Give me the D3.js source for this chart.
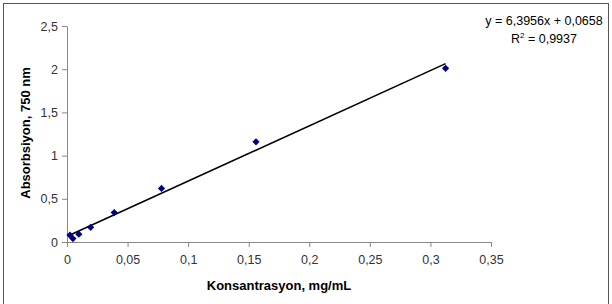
<!DOCTYPE html>
<html>
<head>
<meta charset="utf-8">
<script src="https://cdn.jsdelivr.net/npm/d3@7"></script>
<style>
  body { margin: 0; background: #fff; }
  svg { display: block; font-family: "Liberation Sans", Arial, sans-serif; }
</style>
</head>
<body>
<svg id="chart" width="612" height="304"></svg>
<script>
// concentration (mg/mL) and absorbance at 750 nm
const konsantrasyon = [0.00244, 0.00488, 0.00977, 0.0195, 0.039, 0.078, 0.156, 0.3125]
const absorbsiyon = [0.08, 0.04, 0.09, 0.17, 0.34, 0.62, 1.16, 2.01]
const xTicks = [0, 0.05, 0.1, 0.15, 0.2, 0.25, 0.3, 0.35]
const yTicks = [0, 0.5, 1, 1.5, 2, 2.5]
const slope = 6.3956
const intercept = 0.0658

const svg = d3.select('#chart')
const fmt = d => String(d).replace('.', ',')

// frame
svg.append('rect')
  .attr('x', 3.5).attr('y', 3.5)
  .attr('width', 605).attr('height', 304)
  .attr('fill', 'none').attr('stroke', '#555').attr('stroke-width', 1)

const x = d3.scaleLinear().domain([0, 0.35]).range([67, 491])
const y = d3.scaleLinear().domain([0, 2.5]).range([242, 26])

const xAxis = svg.append('g')
  .attr('transform', `translate(0,${y(0)})`)
  .call(d3.axisBottom(x).tickValues(xTicks).tickFormat(fmt).tickSize(5).tickPadding(8).tickSizeOuter(0))
const yAxis = svg.append('g')
  .attr('transform', `translate(${x(0)},0)`)
  .call(d3.axisLeft(y).tickValues(yTicks).tickFormat(fmt).tickSize(5).tickPadding(4).tickSizeOuter(0))

for (const ax of [xAxis, yAxis]) {
  ax.select('.domain').attr('stroke', '#888')
  ax.selectAll('.tick line').attr('stroke', '#888')
  ax.selectAll('.tick text').attr('fill', '#333').style('font-size', '12.5px')
    .style('font-family', '"Liberation Sans", Arial, sans-serif')
}

// trendline
const xr = d3.extent(konsantrasyon)
svg.append('line')
  .attr('x1', x(xr[0])).attr('y1', y(slope * xr[0] + intercept))
  .attr('x2', x(xr[1])).attr('y2', y(slope * xr[1] + intercept))
  .attr('stroke', '#000').attr('stroke-width', 1.6)

// points, square diamonds
svg.append('g')
  .selectAll('path')
  .data(konsantrasyon)
  .join('path')
  .attr('d', 'M0,-3.6L3.6,0L0,3.6L-3.6,0Z')
  .attr('transform', (d, i) => `translate(${x(d)},${y(absorbsiyon[i])})`)
  .attr('fill', '#000080')

// axis titles
svg.append('text')
  .attr('x', 279).attr('y', 290)
  .attr('text-anchor', 'middle')
  .style('font-size', '13px').style('font-weight', 'bold')
  .text('Konsantrasyon, mg/mL')

svg.append('text')
  .attr('transform', 'translate(30,133) rotate(-90)')
  .attr('text-anchor', 'middle')
  .style('font-size', '13px').style('font-weight', 'bold')
  .text('Absorbsiyon, 750 nm')

// equation
const eq = svg.append('g').style('font-size', '12.5px').attr('fill', '#000')
eq.append('text')
  .attr('x', 544).attr('y', 25)
  .attr('text-anchor', 'middle')
  .text(`y = ${fmt(slope)}x + ${fmt(intercept)}`)
const r2 = eq.append('text')
  .attr('x', 544).attr('y', 43)
  .attr('text-anchor', 'middle')
r2.append('tspan').text('R')
r2.append('tspan').attr('dy', -5).style('font-size', '8px').text('2')
r2.append('tspan').attr('dy', 5).text(' = 0,9937')
</script>
</body>
</html>
